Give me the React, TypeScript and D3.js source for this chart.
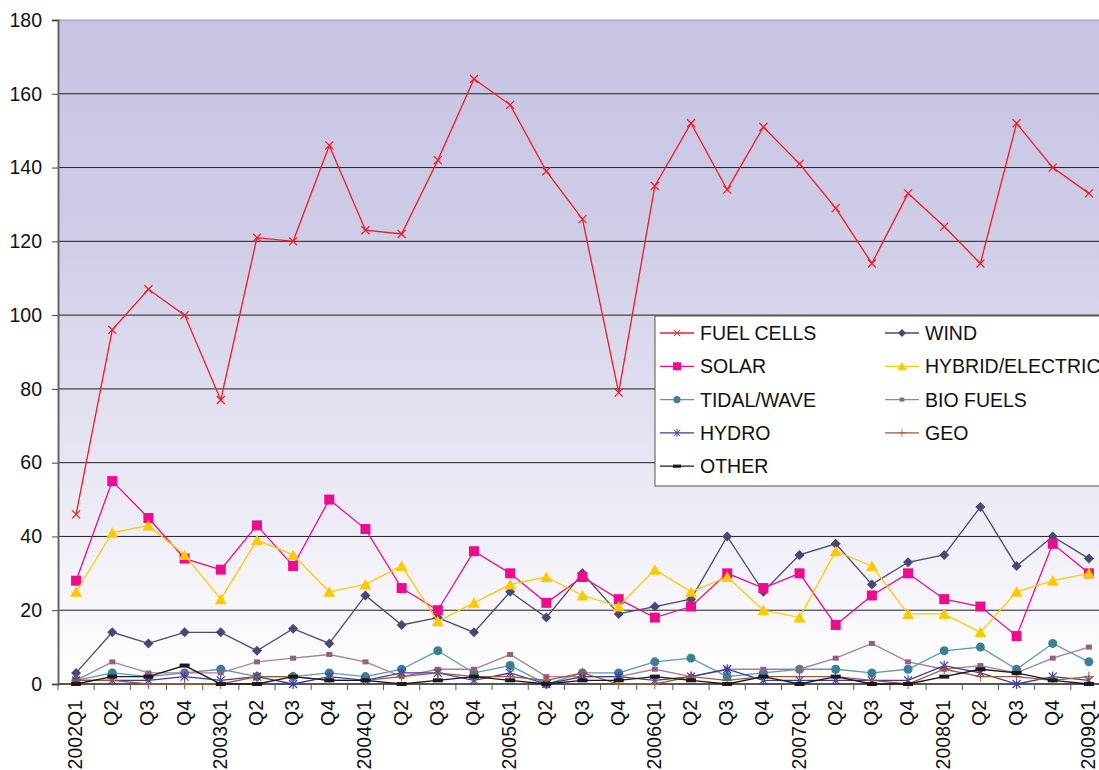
import React, { useRef, useEffect } from "react";
import * as d3 from "d3";

const quarters = [
  "2002Q1", "Q2", "Q3", "Q4",
  "2003Q1", "Q2", "Q3", "Q4",
  "2004Q1", "Q2", "Q3", "Q4",
  "2005Q1", "Q2", "Q3", "Q4",
  "2006Q1", "Q2", "Q3", "Q4",
  "2007Q1", "Q2", "Q3", "Q4",
  "2008Q1", "Q2", "Q3", "Q4",
  "2009Q1",
];

const fuelCells = [46, 96, 107, 100, 77, 121, 120, 146, 123, 122, 142, 164, 157, 139, 126, 79, 135, 152, 134, 151, 141, 129, 114, 133, 124, 114, 152, 140, 133];
const wind = [3, 14, 11, 14, 14, 9, 15, 11, 24, 16, 18, 14, 25, 18, 30, 19, 21, 23, 40, 25, 35, 38, 27, 33, 35, 48, 32, 40, 34];
const solar = [28, 55, 45, 34, 31, 43, 32, 50, 42, 26, 20, 36, 30, 22, 29, 23, 18, 21, 30, 26, 30, 16, 24, 30, 23, 21, 13, 38, 30];
const hybrid = [25, 41, 43, 35, 23, 39, 35, 25, 27, 32, 17, 22, 27, 29, 24, 21, 31, 25, 29, 20, 18, 36, 32, 19, 19, 14, 25, 28, 30];
const tidal = [1, 3, 2, 3, 4, 2, 2, 3, 2, 4, 9, 3, 5, 0, 3, 3, 6, 7, 2, 3, 4, 4, 3, 4, 9, 10, 4, 11, 6];
const bioFuels = [1, 6, 3, 3, 3, 6, 7, 8, 6, 2, 4, 4, 8, 2, 2, 2, 4, 2, 4, 4, 4, 7, 11, 6, 4, 5, 3, 7, 10];
const hydro = [1, 1, 1, 2, 1, 2, 0, 2, 1, 3, 3, 1, 3, 0, 2, 2, 1, 2, 4, 1, 1, 1, 1, 1, 5, 3, 0, 2, 1];
const geo = [1, 1, 0, 0, 0, 2, 2, 1, 1, 2, 3, 2, 2, 1, 3, 0, 0, 2, 1, 2, 2, 2, 1, 0, 4, 2, 2, 1, 2];
const other = [0, 2, 2, 5, 0, 0, 2, 1, 1, 0, 1, 2, 1, 0, 1, 1, 2, 1, 0, 2, 0, 2, 0, 0, 2, 4, 3, 1, 0];

const yTicks = [0, 20, 40, 60, 80, 100, 120, 140, 160, 180];

type Series = { name: string; values: number[]; color: string; marker: string; lineColor?: string };

const series: Series[] = [
  { name: "FUEL CELLS", values: fuelCells, color: "#ee1c25", marker: "x" },
  { name: "WIND", values: wind, color: "#4b4678", marker: "diamond" },
  { name: "SOLAR", values: solar, color: "#ec0c8c", marker: "square" },
  { name: "HYBRID/ELECTRIC", values: hybrid, color: "#ffc800", marker: "triangle" },
  { name: "TIDAL/WAVE", values: tidal, color: "#3a7f96", marker: "circle", lineColor: "#5b9aaa" },
  { name: "BIO FUELS", values: bioFuels, color: "#94607f", marker: "rect", lineColor: "#a77e95" },
  { name: "HYDRO", values: hydro, color: "#3b3ba8", marker: "star" },
  { name: "GEO", values: geo, color: "#a0583a", marker: "plus" },
  { name: "OTHER", values: other, color: "#1a1a1a", marker: "dash" },
];

const FONT = "Liberation Sans, Arial, sans-serif";

function drawMarker(g: any, kind: string, color: string) {
  if (kind === "x") {
    g.append("path").attr("d", "M-4,-4L4,4M-4,4L4,-4").attr("stroke", color).attr("stroke-width", 1.2).attr("fill", "none");
  } else if (kind === "diamond") {
    g.append("path").attr("d", "M0,-5L5,0L0,5L-5,0Z").attr("fill", color);
  } else if (kind === "square") {
    g.append("rect").attr("x", -5).attr("y", -5).attr("width", 10).attr("height", 10).attr("fill", color);
  } else if (kind === "triangle") {
    g.append("path").attr("d", "M0,-5.5L6,5L-6,5Z").attr("fill", color);
  } else if (kind === "circle") {
    g.append("circle").attr("r", 4.5).attr("fill", color);
  } else if (kind === "rect") {
    g.append("rect").attr("x", -3).attr("y", -2.5).attr("width", 6).attr("height", 5).attr("fill", color);
  } else if (kind === "star") {
    g.append("path").attr("d", "M-4,-4L4,4M-4,4L4,-4M0,-5L0,5").attr("stroke", color).attr("stroke-width", 1.2).attr("fill", "none");
  } else if (kind === "plus") {
    g.append("path").attr("d", "M0,-5L0,5M-5,0L5,0").attr("stroke", color).attr("stroke-width", 1).attr("fill", "none");
  } else if (kind === "dash") {
    g.append("rect").attr("x", -5).attr("y", -2).attr("width", 10).attr("height", 4).attr("fill", color);
  }
}

export default function App() {
  const ref = useRef<SVGSVGElement>(null);

  const width = 1099;
  const height = 770;
  const left = 58;
  const plotRight = 1107;
  const top = 20;
  const bottom = 684;

  useEffect(() => {
    const svg = d3.select(ref.current);
    svg.selectAll("*").remove();

    const x = d3.scaleBand().domain(quarters.map((q, i) => String(i))).range([left, plotRight]);
    const cx = (i: number) => (x(String(i)) as number) + x.bandwidth() / 2;
    const y = d3.scaleLinear().domain([0, 180]).range([bottom, top]);

    const defs = svg.append("defs");
    const grad = defs.append("linearGradient").attr("id", "bg").attr("x1", 0).attr("y1", 0).attr("x2", 0).attr("y2", 1);
    grad.append("stop").attr("offset", "0%").attr("stop-color", "#c6c4e3");
    grad.append("stop").attr("offset", "30%").attr("stop-color", "#cdcbe6");
    grad.append("stop").attr("offset", "100%").attr("stop-color", "#ffffff");

    svg.append("rect").attr("x", left).attr("y", top).attr("width", plotRight - left).attr("height", bottom - top).attr("fill", "url(#bg)");

    // gridlines
    svg.append("g")
      .selectAll("line")
      .data(yTicks.filter((t) => t > 0 && t < 180))
      .join("line")
      .attr("x1", left)
      .attr("x2", plotRight)
      .attr("y1", (d) => y(d))
      .attr("y2", (d) => y(d))
      .attr("stroke", "#222")
      .attr("stroke-width", 1);

    svg.append("line").attr("x1", left).attr("x2", plotRight).attr("y1", top).attr("y2", top).attr("stroke", "#999").attr("stroke-width", 1);

    // y axis
    const yAxis = svg.append("g").attr("transform", `translate(${left},0)`)
      .call(d3.axisLeft(y).tickValues(yTicks).tickSize(6).tickPadding(10));
    yAxis.select(".domain").attr("stroke", "#666").attr("stroke-width", 2);
    yAxis.selectAll(".tick line").attr("stroke", "#444");
    yAxis.selectAll("text").attr("font-family", FONT).attr("font-size", 19.5).attr("fill", "#111");

    // x axis: ticks between categories
    const xg = svg.append("g");
    xg.append("line").attr("x1", left).attr("x2", plotRight).attr("y1", bottom).attr("y2", bottom).attr("stroke", "#555").attr("stroke-width", 2);
    xg.selectAll("line.tk")
      .data(d3.range(quarters.length + 1))
      .join("line")
      .attr("class", "tk")
      .attr("x1", (i) => left + i * x.bandwidth())
      .attr("x2", (i) => left + i * x.bandwidth())
      .attr("y1", bottom)
      .attr("y2", bottom + 6)
      .attr("stroke", "#555");
    xg.selectAll("text")
      .data(quarters)
      .join("text")
      .attr("transform", (d, i) => `translate(${cx(i) + 6},${bottom + 16}) rotate(-90)`)
      .attr("text-anchor", "end")
      .attr("font-family", FONT)
      .attr("font-size", 19.5)
      .attr("fill", "#111")
      .text((d) => d);

    // lines and markers
    const line = d3.line<number>().x((d, i) => cx(i)).y((d) => y(d));
    series.forEach((s) => {
      svg.append("path")
        .datum(s.values)
        .attr("d", line)
        .attr("fill", "none")
        .attr("stroke", s.lineColor || s.color)
        .attr("stroke-width", 1.3);
      s.values.forEach((v, i) => {
        const g = svg.append("g").attr("transform", `translate(${cx(i)},${y(v)})`);
        drawMarker(g, s.marker, s.color);
      });
    });

    // legend
    const lg = svg.append("g").attr("transform", "translate(655,316)");
    lg.append("rect").attr("width", 460).attr("height", 170).attr("fill", "#fff").attr("stroke", "#555");
    series.forEach((s, i) => {
      const col = i % 2;
      const row = Math.floor(i / 2);
      const gx = 5 + col * 225;
      const gy = 17 + row * 33.3;
      lg.append("line").attr("x1", gx).attr("x2", gx + 34).attr("y1", gy).attr("y2", gy)
        .attr("stroke", s.lineColor || s.color).attr("stroke-width", 1.3);
      drawMarker(lg.append("g").attr("transform", `translate(${gx + 17},${gy}) scale(0.8)`), s.marker, s.color);
      lg.append("text").attr("x", gx + 40).attr("y", gy + 7)
        .attr("font-family", FONT)
        .attr("font-size", 19.5)
        .attr("fill", "#111")
        .text(s.name);
    });
  }, []);

  return (
    <svg
      width={width}
      height={height}
      ref={ref}
      style={{ position: "absolute", left: 0, top: 0, background: "#fff" }}
    ></svg>
  );
}
